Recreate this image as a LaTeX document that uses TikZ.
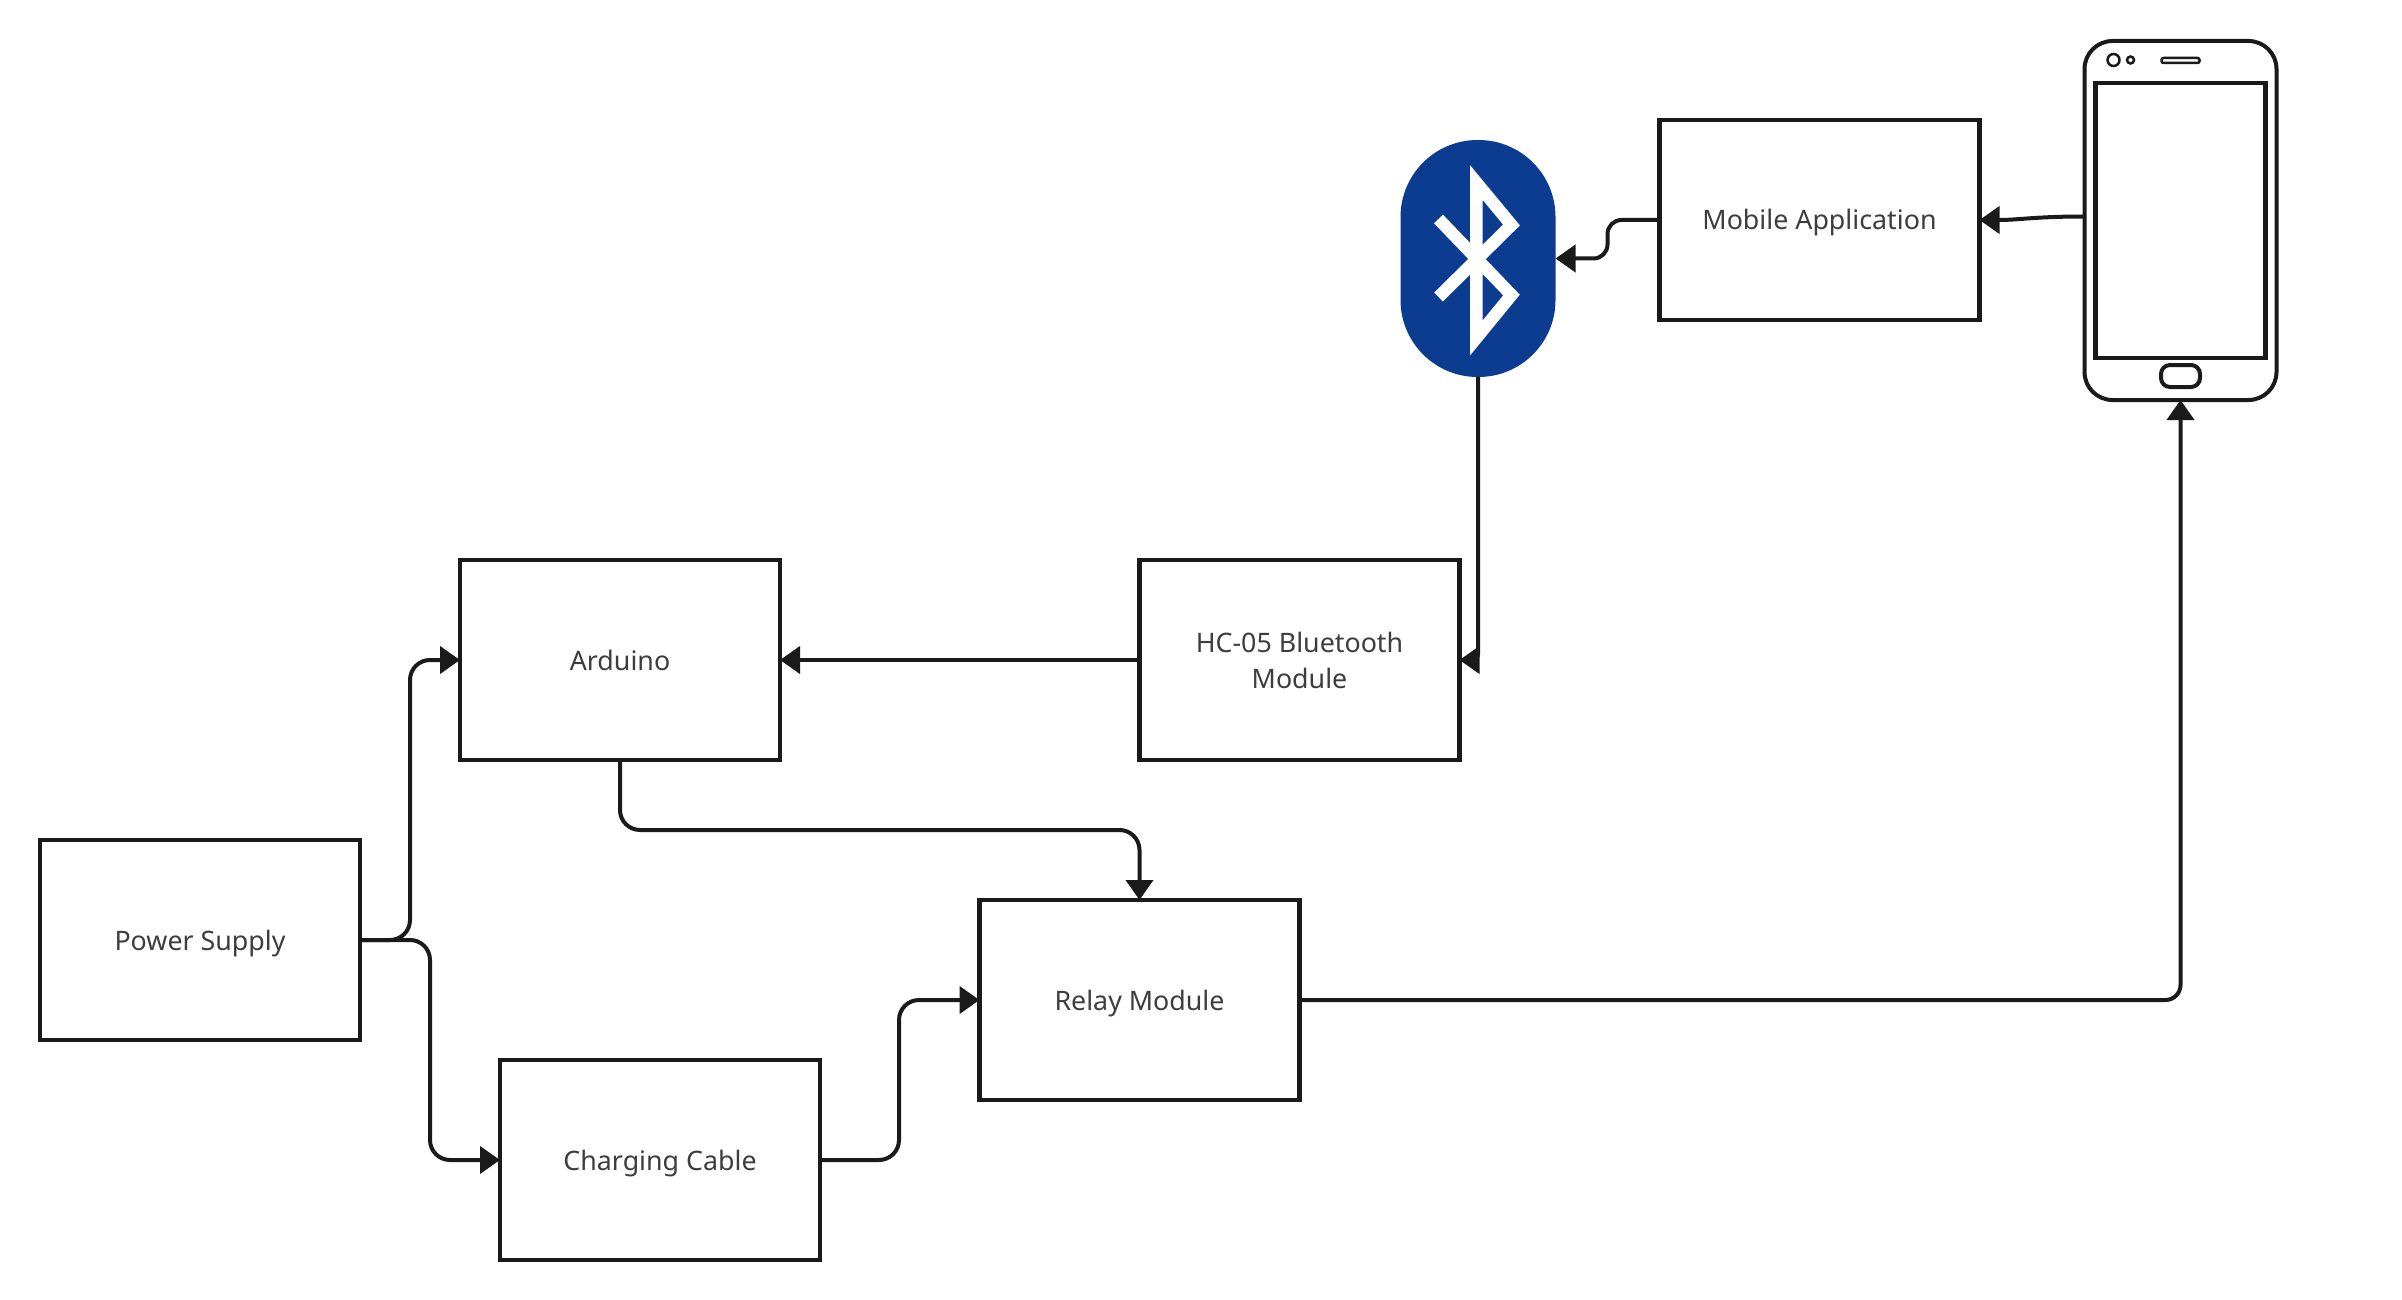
\documentclass[tikz,border=0pt]{standalone}
\usepackage{fontspec}
\setmainfont{Noto Sans}
\usepackage{tikz}
\usetikzlibrary{arrows.meta}
\usetikzlibrary{positioning}
\definecolor{lineblack}{HTML}{1A1A1A}
\definecolor{labelgrey}{HTML}{3D3D3D}
\definecolor{btblue}{HTML}{0C3C90}

\begin{document}
\begin{tikzpicture}[x=1pt,y=-1pt,->,>={Triangle[length=20pt,width=27pt]},
  line width=4pt,draw=lineblack,
  block/.style={rectangle,draw,line width=4.5pt,fill=white,text=labelgrey,inner sep=0pt,outer sep=0pt,
    minimum width=320pt,minimum height=200pt,align=center,text height=20pt,text depth=0pt,
    font=\fontsize{26.8}{36}\selectfont},
  part/.style={rectangle,draw,fill=white,inner sep=0pt,outer sep=0pt}]

  \useasboundingbox (0,0) rectangle (2402,1300);

  \node[block] (power) at (200,940) {Power Supply};
  \node[block] (arduino) [above right=80pt and 100pt of power] {Arduino};
  \node[block] (charging) [below right=20pt and 140pt of power] {Charging Cable};
  \node[block] (relay) [below right=140pt and 199.5pt of arduino] {Relay Module};
  \node[block,text height=56pt] (hc05) [right=359.5pt of arduino] {HC-05 Bluetooth\\Module};
  \node[block] (mobile) [above right=240pt and 200pt of hc05] {Mobile Application};

  \node[part,rounded corners=28pt,minimum width=192pt,minimum height=359pt] (phone) [right=105pt of mobile,yshift=-0.5pt] {};
  \node[part,line width=4.5pt,minimum width=170pt,minimum height=275pt] (screen) at (phone.center) {};
  \node[part,circle,line width=2.5pt,minimum size=12pt] (lens) at ([xshift=29pt,yshift=-19pt]phone.north west) {};
  \node[part,circle,line width=2.5pt,minimum size=7pt] (sensor) at ([xshift=46pt,yshift=-19pt]phone.north west) {};
  \node[part,rounded corners=2pt,line width=2.5pt,minimum width=38pt,minimum height=5pt] (speaker) at ([yshift=-19.5pt]phone.north) {};
  \node[part,rounded corners=9pt,minimum width=39pt,minimum height=22pt] (home) at ([yshift=24pt]phone.south) {};

  \node[rectangle,fill=btblue,rounded corners=77pt,inner sep=0pt,outer sep=0pt,
    minimum width=155pt,minimum height=237pt] (blue) [left=104pt of mobile,yshift=-38.5pt] {};
  \begin{scope}[shift={(blue.center)}]
    \draw[-,white,line width=12.4pt,miter limit=20]
      (-39.5,38.5) -- (33.5,-33.5) -- (-1.7,-76) -- (-1.7,79.5) -- (33.5,36.5) -- (-39.5,-39.5);
  \end{scope}

  \draw[rounded corners=20pt] (power.east) -- ++(50,0) |- (arduino.west);
  \draw[rounded corners=20pt] (power.east) -- ++(70,0) |- (charging.west);
  \draw[rounded corners=20pt] (charging.east) -- ++(79,0) |- (relay.west);
  \draw[rounded corners=20pt] (arduino.south) -- ++(0,70) -| (relay.north);
  \draw[rounded corners=15pt] (relay.east) -| (phone.south);
  \draw (hc05.west) -- (arduino.east);
  \draw[rounded corners=6pt] (blue.south) |- (hc05.east);
  \draw[rounded corners=14pt] (mobile.west) -- ++(-52,0) |- (blue.east);
  \draw ([yshift=4pt]phone.west) .. controls +(-50,0) and +(40,0) .. (mobile.east);
\end{tikzpicture}
\end{document}
